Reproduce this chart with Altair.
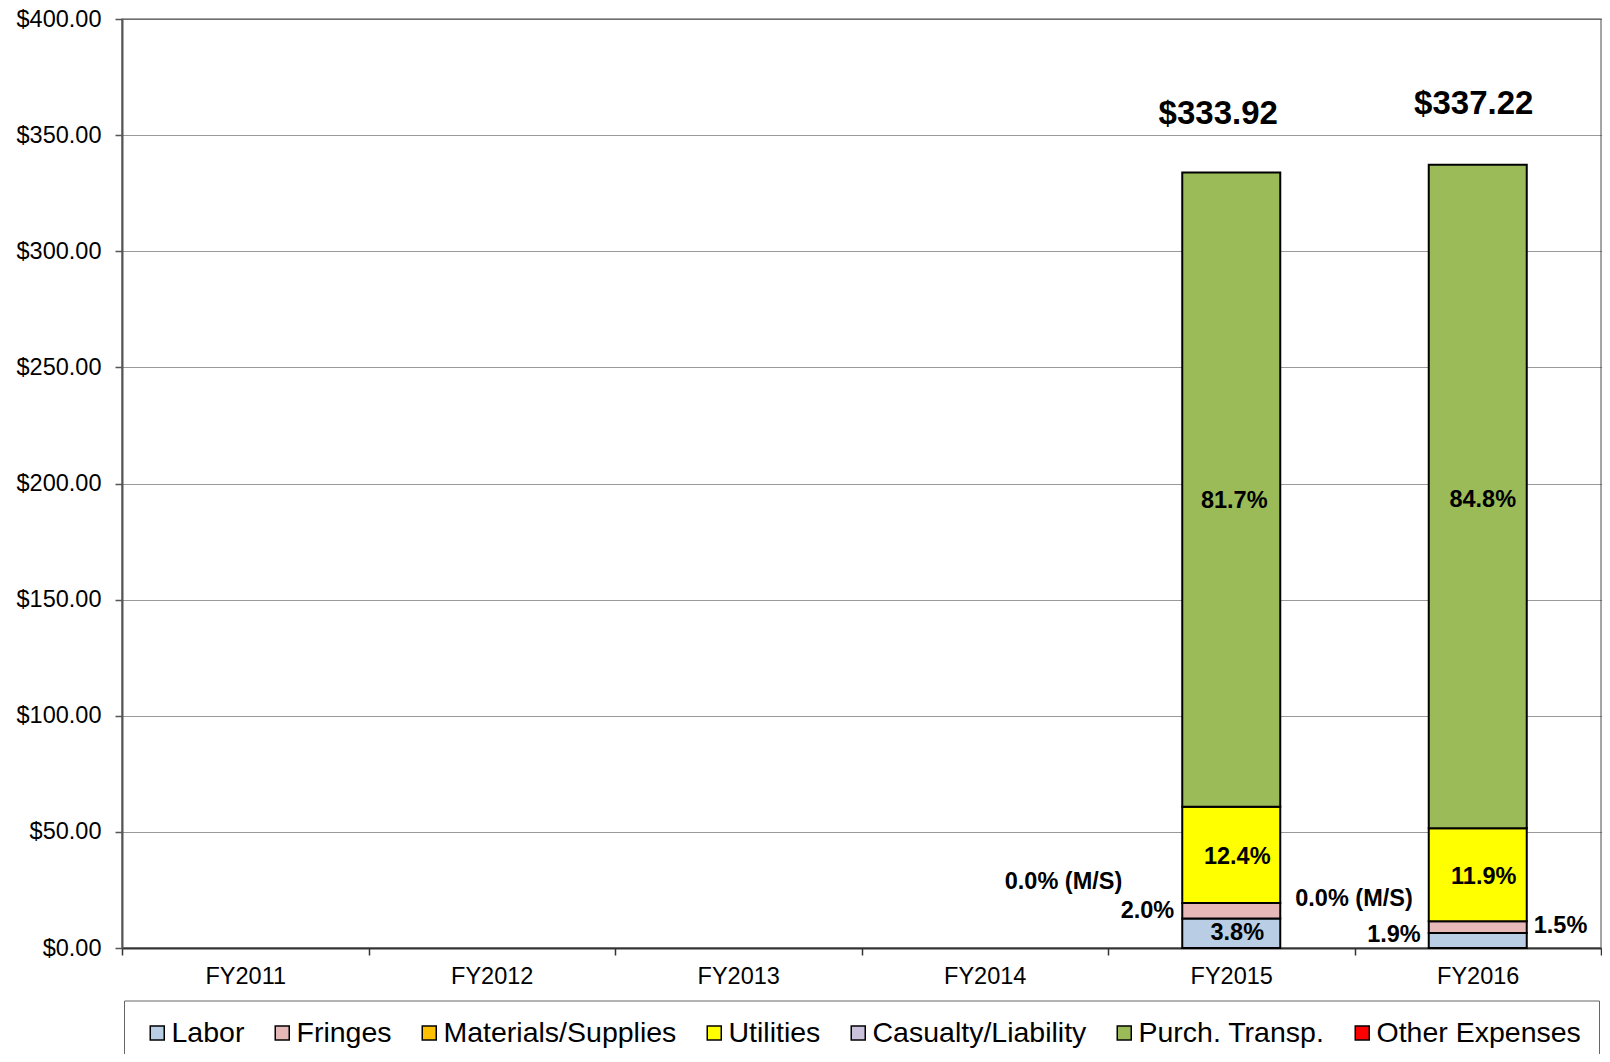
import altair as alt
import pandas as pd

# ---------------- data ----------------
years = ["FY2011", "FY2012", "FY2013", "FY2014", "FY2015", "FY2016"]
categories = ["Labor", "Fringes", "Materials/Supplies", "Utilities",
              "Casualty/Liability", "Purch. Transp.", "Other Expenses"]
colors = ["#B9CDE5", "#E6B9B8", "#FFC000", "#FFFF00", "#CCC1DA", "#9BBB59", "#FF0000"]

bar_years = ["FY2015", "FY2016"]
fy2015_values = [12.69, 6.68, 0.0, 41.41, 0.0, 273.14, 0.0]
fy2016_values = [6.41, 5.06, 0.0, 40.13, 0.0, 285.62, 0.0]
totals = [333.92, 337.22]
total_labels = ["$333.92", "$337.22"]
fy2015_pct = ["3.8%", "2.0%", "0.0% (M/S)", "12.4%", "", "81.7%", ""]
fy2016_pct = ["1.9%", "1.5%", "0.0% (M/S)", "11.9%", "", "84.8%", ""]
y_ticks = [0, 50, 100, 150, 200, 250, 300, 350, 400]

# ---------------- build tables ----------------
rows = []
for yr, vals, pcts in zip(bar_years, [fy2015_values, fy2016_values], [fy2015_pct, fy2016_pct]):
    base = 0.0
    for cat, v, p in zip(categories, vals, pcts):
        rows.append(dict(year=yr, category=cat, value=v, y0=base, y1=base + v,
                         mid=base + v / 2, pct=p))
        base += v
seg = pd.DataFrame(rows)
tot = pd.DataFrame(dict(year=bar_years, total=totals, label=total_labels))

FONT = "Liberation Sans"

x_enc = alt.X("year:N",
              scale=alt.Scale(domain=years, paddingInner=0, paddingOuter=0),
              axis=alt.Axis(title=None, labelAngle=0, labelFontSize=23.5, labelColor="black",
                            tickSize=7, tickBand="extent", labelPadding=9,
                            domainColor="#333333", domainWidth=2,
                            tickColor="#333333", tickWidth=1.5, grid=False))
y_scale = alt.Scale(domain=[0, 400], nice=False)

bars = alt.Chart(seg).transform_filter("datum.value > 0").mark_bar(
    size=98, stroke="black", strokeWidth=2
).encode(
    x=x_enc,
    y=alt.Y("y1:Q", scale=y_scale,
            axis=alt.Axis(title=None, values=y_ticks, format="$,.2f",
                          labelFontSize=23.5, labelColor="black", tickSize=7, labelPadding=14,
                          domainColor="#555555", domainWidth=2,
                          tickColor="#555555", tickWidth=1.5,
                          grid=True, gridColor="#333333", gridDash=[1, 1], gridWidth=1)),
    y2="y0:Q",
    color=alt.Color("category:N",
                    scale=alt.Scale(domain=categories, range=colors),
                    legend=alt.Legend(title=None, orient="none", legendX=2, legendY=981.5,
                                      direction="horizontal", columns=7,
                                      symbolType="square", symbolSize=196,
                                      symbolStrokeColor="black", symbolStrokeWidth=1.5,
                                      symbolOffset=1,
                                      labelFontSize=28.5, labelOffset=0, labelLimit=500,
                                      labelColor="black",
                                      columnPadding=22, padding=18,
                                      strokeColor="#666666", fillColor="white")),
)

layers = [bars]

# total labels above bars
total_place = {"FY2015": (-13, -58), "FY2016": (-4, -61)}
for yr, (dx, dy) in total_place.items():
    layers.append(
        alt.Chart(tot).transform_filter(alt.datum.year == yr).mark_text(
            fontSize=33, fontWeight="bold", font=FONT, color="black",
            align="center", baseline="middle", dx=dx, dy=dy
        ).encode(x=alt.X("year:N"), y=alt.Y("total:Q"), text="label:N")
    )

# percentage labels
label_place = {
    ("FY2015", "Labor"): ("center", 6, 0),
    ("FY2015", "Fringes"): ("right", -57, 0),
    ("FY2015", "Materials/Supplies"): ("right", -109, -21),
    ("FY2015", "Utilities"): ("center", 6, 2),
    ("FY2015", "Purch. Transp."): ("center", 3, 11),
    ("FY2016", "Labor"): ("right", -57, -6),
    ("FY2016", "Fringes"): ("left", 56, -1),
    ("FY2016", "Materials/Supplies"): ("right", -65, -22),
    ("FY2016", "Utilities"): ("center", 6, 2),
    ("FY2016", "Purch. Transp."): ("center", 5, 3.5),
}
for (yr, cat), (align, dx, dy) in label_place.items():
    layers.append(
        alt.Chart(seg).transform_filter(
            (alt.datum.year == yr) & (alt.datum.category == cat)
        ).mark_text(
            fontSize=23.5, fontWeight="bold", font=FONT, color="black",
            align=align, baseline="middle", dx=dx, dy=dy
        ).encode(x=alt.X("year:N"), y=alt.Y("mid:Q"), text="pct:N")
    )

chart = alt.layer(*layers).properties(
    width=1479, height=929,
    autosize=alt.AutoSizeParams(type="none"),
    padding={"left": 114, "top": 11, "right": 1, "bottom": 106},
).configure(font=FONT).configure_view(stroke="#888888", strokeWidth=1.5)

chart.save("out.html", embed_options={"renderer": "svg", "actions": False})
